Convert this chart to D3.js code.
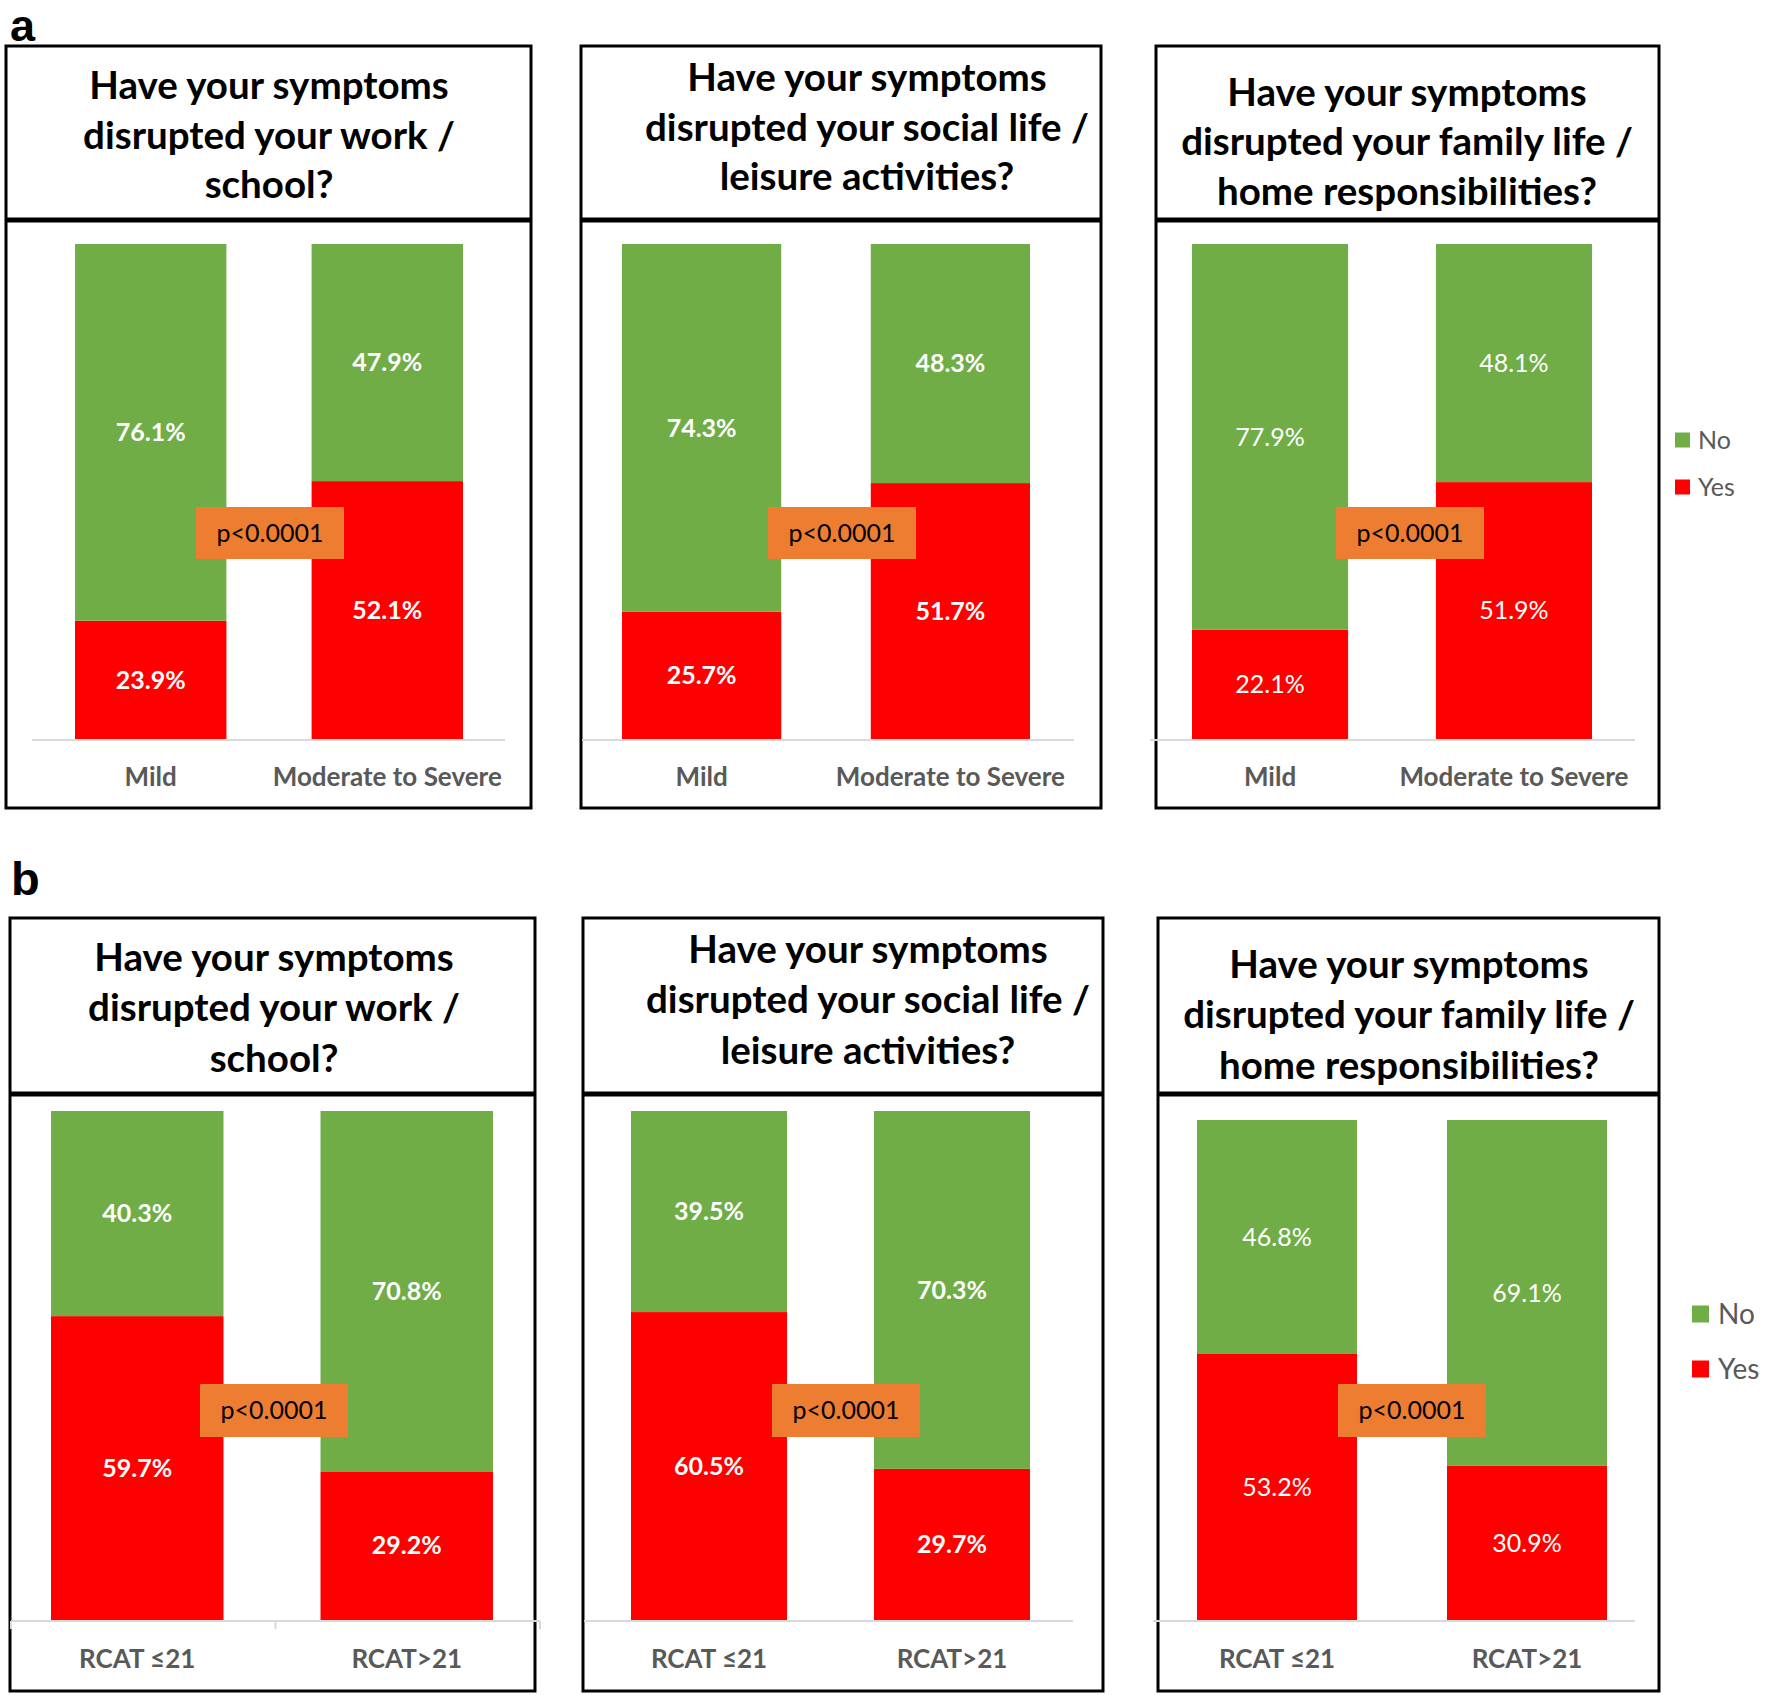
<!DOCTYPE html>
<html>
<head>
<meta charset="utf-8">
<script src="https://cdn.jsdelivr.net/npm/d3@7"></script>
<style>
  html, body { margin: 0; padding: 0; background: #fff; }
  svg { display: block; }
</style>
</head>
<body>
<svg id="chart" width="1772" height="1695"></svg>
<script>
// ---------------- DATA ----------------
const seriesNames = ["No", "Yes"];
const categoriesA = ["Mild", "Moderate to Severe"];
const categoriesB = ["RCAT \u226421", "RCAT>21"];
const titles = [
  ["Have your symptoms", "disrupted your work /", "school?"],
  ["Have your symptoms", "disrupted your social life /", "leisure activities?"],
  ["Have your symptoms", "disrupted your family life /", "home responsibilities?"]
];
// panel a (Mild, Moderate to Severe)
const yesA = [[23.9, 52.1], [25.7, 51.7], [22.1, 51.9]];
const noA  = [[76.1, 47.9], [74.3, 48.3], [77.9, 48.1]];
// panel b (RCAT <=21, RCAT>21)
const yesB = [[59.7, 29.2], [60.5, 29.7], [53.2, 30.9]];
const noB  = [[40.3, 70.8], [39.5, 70.3], [46.8, 69.1]];
const pValues = ["p<0.0001", "p<0.0001", "p<0.0001", "p<0.0001", "p<0.0001", "p<0.0001"];
const yTicks = [0, 100];

// ---------------- LAYOUT ----------------
const colors = { No: "#70AD47", Yes: "#FF0000" };
const layouts = [
  // panel a
  { box:[6,46,531,808], div:220, top:244, base:739, bars:[75,463], axis:[32,505], p:[196,507,148,52], tY:[86,136,185], tX:269, labY:777, bold:true },
  { box:[581,46,1101,808], div:220, top:244, base:739, bars:[622,1030], axis:[582,1074], p:[768,507,148,52], tY:[78,128,177], tX:867, labY:777, bold:true },
  { box:[1156,46,1659,808], div:220, top:244, base:739, bars:[1192,1592], axis:[1150,1635], p:[1336,507,148,52], tY:[93,142,192], tX:1407, labY:777, bold:false },
  // panel b
  { box:[10,918,535,1691], div:1094, top:1111, base:1620, bars:[51,493], axis:[11,540], p:[200,1384,148,53], tY:[958,1008,1059], tX:274, labY:1659, bold:true, ticks:true },
  { box:[583,918,1103,1691], div:1094, top:1111, base:1620, bars:[631,1030], axis:[584,1073], p:[772,1384,148,53], tY:[950,1000,1051], tX:868, labY:1659, bold:true },
  { box:[1158,918,1659,1691], div:1094, top:1120, base:1620, bars:[1197,1607], axis:[1153,1635], p:[1338,1384,148,53], tY:[965,1015,1066], tX:1409, labY:1659, bold:false }
];
const bandPad = [0.36, 0.36, 0.36, 0.36, 0.358, 0.36];

const svg = d3.select("#chart");
const FONT = "Lato, 'Open Sans', sans-serif";

// panel letters
svg.append("text").attr("x", 10).attr("y", 41).text("a")
  .attr("font-family", "'Liberation Sans', Arial, sans-serif").attr("font-weight", "bold").attr("font-size", 45);
svg.append("text").attr("x", 11).attr("y", 895).text("b")
  .attr("font-family", "'Liberation Sans', Arial, sans-serif").attr("font-weight", "bold").attr("font-size", 47);

layouts.forEach((L, i) => {
  const isA = i < 3;
  const k = i % 3;
  const cats = isA ? categoriesA : categoriesB;
  const yes = isA ? yesA[k] : yesB[k];
  const no = isA ? noA[k] : noB[k];
  const g = svg.append("g");

  const x = d3.scaleBand().domain(cats).range(L.bars).paddingInner(bandPad[i]).paddingOuter(0);
  const y = d3.scaleLinear().domain([yTicks[0], yTicks[1]]).range([L.base, L.top]);

  // box
  const [x0, y0, x1, y1] = L.box;
  g.append("rect").attr("x", x0).attr("y", y0).attr("width", x1 - x0).attr("height", y1 - y0)
    .attr("fill", "#fff").attr("stroke", "#000").attr("stroke-width", 3);
  g.append("line").attr("x1", x0).attr("x2", x1).attr("y1", L.div).attr("y2", L.div)
    .attr("stroke", "#000").attr("stroke-width", 5);

  // title
  g.append("text").attr("text-anchor", "middle").attr("font-family", FONT)
    .attr("font-weight", "bold").attr("font-size", 38.5).attr("fill", "#000")
    .selectAll("tspan").data(titles[k]).join("tspan")
    .attr("x", L.tX).attr("y", (d, j) => L.tY[j]).attr("dy", "0.35em").text(d => d);

  // stacked data
  const rows = cats.map((c, j) => ({ cat: c, Yes: yes[j], No: no[j] }));
  const stack = d3.stack().keys(["Yes", "No"])(rows);

  // axis line
  g.append("line").attr("x1", L.axis[0]).attr("x2", L.axis[1]).attr("y1", L.base + 1).attr("y2", L.base + 1)
    .attr("stroke", "#D9D9D9").attr("stroke-width", 2);
  if (L.ticks) {
    const mid = (L.axis[0] + L.axis[1]) / 2;
    [L.axis[0], mid, L.axis[1]].forEach(t => {
      g.append("line").attr("x1", t).attr("x2", t).attr("y1", L.base + 1).attr("y2", L.base + 9)
        .attr("stroke", "#D9D9D9").attr("stroke-width", 2);
    });
  }

  stack.forEach(layer => {
    g.append("g").selectAll("rect").data(layer).join("rect")
      .attr("x", d => x(d.data.cat)).attr("width", x.bandwidth())
      .attr("y", d => y(d[1])).attr("height", d => y(d[0]) - y(d[1]))
      .attr("fill", colors[layer.key]);
    g.append("g").selectAll("text").data(layer).join("text")
      .attr("x", d => x(d.data.cat) + x.bandwidth() / 2)
      .attr("y", d => (y(d[0]) + y(d[1])) / 2)
      .attr("dy", "0.35em").attr("text-anchor", "middle")
      .attr("font-family", FONT).attr("font-size", 25)
      .attr("font-weight", L.bold ? "bold" : "normal")
      .attr("fill", "#fff")
      .text(d => (d[1] - d[0]).toFixed(1) + "%");
  });

  // category labels
  g.append("g").selectAll("text").data(cats).join("text")
    .attr("x", d => x(d) + x.bandwidth() / 2).attr("y", L.labY).attr("dy", "0.35em")
    .attr("text-anchor", "middle").attr("font-family", FONT).attr("font-size", 26)
    .attr("font-weight", "bold").attr("fill", "#595959").text(d => d);

  // p-value box
  const [px, py, pw, ph] = L.p;
  g.append("rect").attr("x", px).attr("y", py).attr("width", pw).attr("height", ph).attr("fill", "#ED7D31");
  g.append("text").attr("x", px + pw / 2).attr("y", py + ph / 2).attr("dy", "0.35em")
    .attr("text-anchor", "middle").attr("font-family", FONT).attr("font-size", 25)
    .attr("fill", "#000").text(pValues[i]);
});

// legends
const legends = [
  { x: 1675, y: [440, 487], size: 15, fs: 25, tx: 1698 },
  { x: 1692, y: [1314, 1369], size: 17, fs: 28, tx: 1718 }
];
legends.forEach(Lg => {
  const lg = svg.append("g");
  seriesNames.forEach((s, j) => {
    lg.append("rect").attr("x", Lg.x).attr("y", Lg.y[j] - Lg.size / 2).attr("width", Lg.size).attr("height", Lg.size)
      .attr("fill", colors[s]);
    lg.append("text").attr("x", Lg.tx).attr("y", Lg.y[j]).attr("dy", "0.35em")
      .attr("font-family", FONT).attr("font-size", Lg.fs).attr("fill", "#595959").text(s);
  });
});
</script>
</body>
</html>
